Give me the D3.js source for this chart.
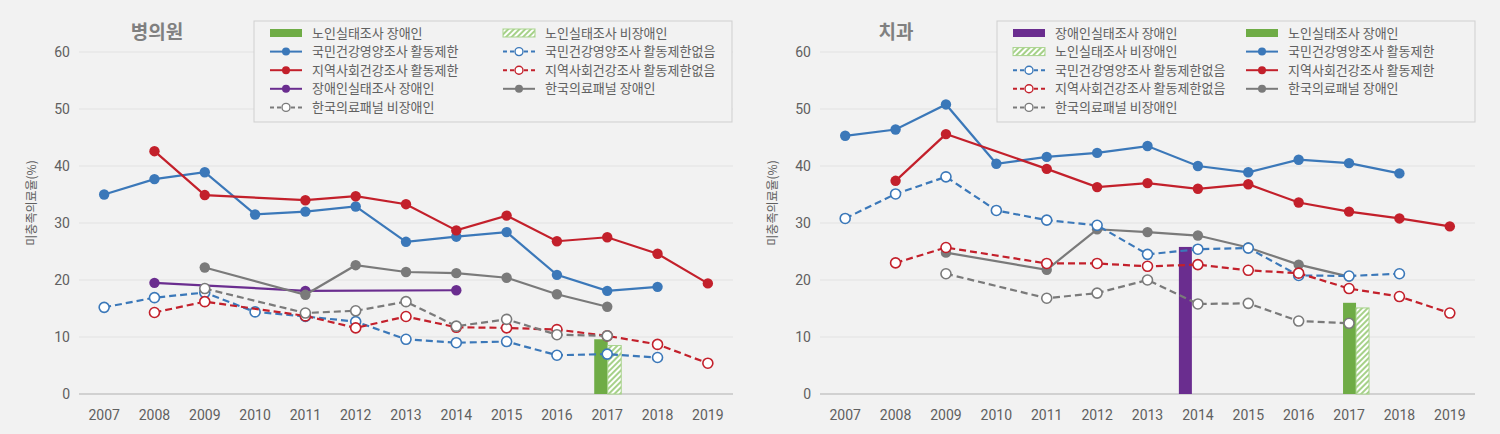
<!DOCTYPE html>
<html>
<head>
<meta charset="utf-8">
<script src="https://cdn.jsdelivr.net/npm/d3@7"></script>
<style>
  body { margin: 0; background: #f2f2f2; }
  svg { display: block; }
</style>
</head>
<body>
<script>
'use strict';

// years on the x axis
const years = [2007, 2008, 2009, 2010, 2011, 2012, 2013, 2014, 2015, 2016, 2017, 2018, 2019];
const yTicks = [0, 10, 20, 30, 40, 50, 60];

// series names
const nameElderDis = "노인실태조사 장애인";
const nameElderNonDis = "노인실태조사 비장애인";
const nameKnhanesLimit = "국민건강영양조사 활동제한";
const nameKnhanesNoLimit = "국민건강영양조사 활동제한없음";
const nameChsLimit = "지역사회건강조사 활동제한";
const nameChsNoLimit = "지역사회건강조사 활동제한없음";
const nameDisSurvey = "장애인실태조사 장애인";
const namePanelDis = "한국의료패널 장애인";
const namePanelNonDis = "한국의료패널 비장애인";

// 병의원 (left panel)
const clinicKnhanesLimit   = [35.0, 37.7, 38.9, 31.5, 32.0, 32.9, 26.7, 27.6, 28.4, 20.9, 18.1, 18.8, null];
const clinicChsLimit       = [null, 42.6, 34.9, null, 34.0, 34.7, 33.3, 28.7, 31.3, 26.8, 27.5, 24.6, 19.4];
const clinicDisSurvey      = [null, 19.5, null, null, 18.1, null, null, 18.2, null, null, null, null, null];
const clinicPanelDis       = [null, null, 22.2, null, 17.4, 22.6, 21.4, 21.2, 20.4, 17.5, 15.3, null, null];
const clinicKnhanesNoLimit = [15.2, 16.9, 17.8, 14.4, 13.6, 12.7, 9.6, 9.0, 9.2, 6.8, 7.0, 6.4, null];
const clinicChsNoLimit     = [null, 14.3, 16.2, null, 13.7, 11.6, 13.6, 11.7, 11.6, 11.3, 10.2, 8.7, 5.4];
const clinicPanelNonDis    = [null, null, 18.5, null, 14.2, 14.6, 16.2, 11.9, 13.1, 10.4, 10.2, null, null];
const clinicElderDis       = [null, null, null, null, null, null, null, null, null, null, 9.6, null, null];
const clinicElderNonDis    = [null, null, null, null, null, null, null, null, null, null, 8.5, null, null];

// 치과 (right panel)
const dentalKnhanesLimit   = [45.3, 46.4, 50.8, 40.4, 41.6, 42.3, 43.5, 40.0, 38.9, 41.1, 40.5, 38.7, null];
const dentalChsLimit       = [null, 37.4, 45.6, null, 39.5, 36.3, 37.0, 36.0, 36.8, 33.6, 32.0, 30.8, 29.4];
const dentalPanelDis       = [null, null, 24.8, null, 21.8, 28.9, 28.4, 27.8, 25.7, 22.7, 20.6, null, null];
const dentalKnhanesNoLimit = [30.8, 35.1, 38.1, 32.2, 30.5, 29.6, 24.5, 25.4, 25.6, 20.8, 20.7, 21.1, null];
const dentalChsNoLimit     = [null, 23.0, 25.7, null, 22.9, 22.9, 22.4, 22.7, 21.7, 21.2, 18.5, 17.1, 14.2];
const dentalPanelNonDis    = [null, null, 21.1, null, 16.8, 17.7, 20.0, 15.8, 15.9, 12.8, 12.4, null, null];
const dentalDisSurvey      = [null, null, null, null, null, null, null, 25.8, null, null, null, null, null];
const dentalElderDis       = [null, null, null, null, null, null, null, null, null, null, 16.0, null, null];
const dentalElderNonDis    = [null, null, null, null, null, null, null, null, null, null, 15.1, null, null];

// colours
const cBlue = "#3b78b9", cRed = "#c3202b", cPurple = "#6a2d8f", cGray = "#7a7a7a", cGreen = "#6fac46";
const textColor = "#606060";
const tickFont = "'Liberation Sans Narrow', 'Arial Narrow', 'Roboto', sans-serif";
const krFont = "'Noto Sans CJK KR', 'Noto Sans', sans-serif";

const svg = d3.select("body").append("svg")
  .attr("width", 1500)
  .attr("height", 434);

svg.append("rect").attr("width", 1500).attr("height", 434).attr("fill", "#f2f2f2");

// hatch pattern for 노인실태조사 비장애인
const defs = svg.append("defs");
const pat = defs.append("pattern")
  .attr("id", "hatch")
  .attr("patternUnits", "userSpaceOnUse")
  .attr("width", 4).attr("height", 4)
  .attr("patternTransform", "rotate(45)");
pat.append("rect").attr("width", 4).attr("height", 4).attr("fill", "#ffffff");
pat.append("line").attr("x1", 1).attr("y1", 0).attr("x2", 1).attr("y2", 4)
  .attr("stroke", "#9ccc7c").attr("stroke-width", 1.8);

function drawPanel(p) {
  const g = svg.append("g");

  let x = d3.scaleBand().domain(years).range([p.x0, p.x1]);
  let y = d3.scaleLinear().domain([0, 60]).range([394, 52]);
  let cx = function(yr) { return x(yr) + x.bandwidth() / 2; };

  // gridlines
  g.selectAll(".grid").data(yTicks).enter().append("line")
    .attr("x1", p.x0).attr("x2", p.x1)
    .attr("y1", d => y(d)).attr("y2", d => y(d))
    .attr("stroke", d => d === 0 ? "#c6c6c6" : "#e2e2e2")
    .attr("stroke-width", d => d === 0 ? 1.5 : 1);

  // y axis labels
  let yAxis = d3.axisLeft(y).tickValues(yTicks).tickSize(0).tickPadding(0);
  g.append("g")
    .attr("transform", "translate(" + (p.x0 - 9) + ",0)")
    .call(yAxis)
    .call(a => a.select(".domain").remove())
    .selectAll("text")
    .style("font-family", tickFont).style("font-size", "14px").attr("fill", textColor);

  // x axis labels
  let xAxis = d3.axisBottom(x).tickSize(0).tickPadding(0);
  g.append("g")
    .attr("transform", "translate(0,410)")
    .call(xAxis)
    .call(a => a.select(".domain").remove())
    .selectAll("text")
    .style("font-family", tickFont).style("font-size", "14px").attr("fill", textColor);

  // axis title
  g.append("text")
    .attr("transform", "translate(" + p.axisLabelX + ",203)rotate(-90)")
    .attr("text-anchor", "middle")
    .style("font-family", krFont).style("font-size", "12px")
    .attr("fill", textColor)
    .text("미충족의료율(%)");

  // panel title
  g.append("text")
    .attr("x", p.titleX).attr("y", 39)
    .attr("text-anchor", "middle")
    .style("font-family", krFont).style("font-size", "19px").style("font-weight", "bold")
    .attr("fill", "#808080")
    .text(p.title);

  // bars
  let slot = d3.scaleBand().domain(p.bars.map(b => b.name)).range(p.barRange);
  p.bars.forEach(function(b) {
    let pts = years.map((yr, i) => ({ yr: yr, v: b.values[i] })).filter(d => d.v !== null);
    g.selectAll(null).data(pts).enter().append("rect")
      .attr("x", d => cx(d.yr) + slot(b.name))
      .attr("width", slot.bandwidth())
      .attr("y", d => y(d.v))
      .attr("height", d => y(0) - y(d.v))
      .attr("fill", b.fill)
      .attr("stroke", b.stroke || "none")
      .attr("stroke-width", 1);
  });

  // lines
  p.lines.forEach(function(s) {
    let pts = years.map((yr, i) => ({ yr: yr, v: s.values[i] })).filter(d => d.v !== null);
    let line = d3.line().x(d => cx(d.yr)).y(d => y(d.v));
    g.append("path")
      .datum(pts)
      .attr("d", line)
      .attr("fill", "none")
      .attr("stroke", s.color)
      .attr("stroke-width", 2.2)
      .attr("stroke-dasharray", s.dashed ? "7,4" : null);
    g.selectAll(null).data(pts).enter().append("circle")
      .attr("cx", d => cx(d.yr)).attr("cy", d => y(d.v))
      .attr("r", s.dashed ? 5 : 5.2)
      .attr("fill", s.dashed ? "#ffffff" : s.color)
      .attr("stroke", s.color)
      .attr("stroke-width", s.dashed ? 1.6 : 0);
  });

  // legend
  let lg = g.append("g").attr("transform", "translate(" + p.legendX + ",21)");
  lg.append("rect")
    .attr("width", 478).attr("height", 101)
    .attr("fill", "#f2f2f2")
    .attr("stroke", "#cfcfcf").attr("stroke-width", 1);
  p.legend.forEach(function(item, i) {
    let col = i % 2, row = Math.floor(i / 2);
    let sx = 16 + col * 233, sy = 12 + row * 18.6;
    let it = lg.append("g").attr("transform", "translate(" + sx + "," + sy + ")");
    if (item.fill) {
      it.append("rect").attr("x", 0).attr("y", -4).attr("width", 32).attr("height", 8)
        .attr("fill", item.fill).attr("stroke", item.stroke || "none");
    } else {
      it.append("line").attr("x1", 0).attr("x2", 32).attr("y1", 0).attr("y2", 0)
        .attr("stroke", item.color).attr("stroke-width", 2)
        .attr("stroke-dasharray", item.dashed ? "4,3" : null);
      it.append("circle").attr("cx", 16).attr("cy", 0).attr("r", 4)
        .attr("fill", item.dashed ? "#ffffff" : item.color)
        .attr("stroke", item.color).attr("stroke-width", item.dashed ? 1.4 : 0);
    }
    it.append("text")
      .attr("x", 42).attr("y", 0).attr("dy", "0.35em")
      .style("font-family", krFont).style("font-size", "13px")
      .attr("fill", textColor)
      .text(item.name);
  });
}

const sElderDis = { name: nameElderDis, fill: cGreen };
const sElderNonDis = { name: nameElderNonDis, fill: "url(#hatch)", stroke: "#a8d38c" };
const sDisBar = { name: nameDisSurvey, fill: cPurple };

drawPanel({
  x0: 79, x1: 733,
  title: "병의원", titleX: 157, axisLabelX: 36, legendX: 254,
  barRange: [-13, 14],
  bars: [
    { name: nameElderDis, values: clinicElderDis, fill: cGreen },
    { name: nameElderNonDis, values: clinicElderNonDis, fill: "url(#hatch)", stroke: "#a8d38c" }
  ],
  lines: [
    { name: nameKnhanesLimit, values: clinicKnhanesLimit, color: cBlue },
    { name: nameChsLimit, values: clinicChsLimit, color: cRed },
    { name: nameDisSurvey, values: clinicDisSurvey, color: cPurple },
    { name: namePanelDis, values: clinicPanelDis, color: cGray },
    { name: nameKnhanesNoLimit, values: clinicKnhanesNoLimit, color: cBlue, dashed: true },
    { name: nameChsNoLimit, values: clinicChsNoLimit, color: cRed, dashed: true },
    { name: namePanelNonDis, values: clinicPanelNonDis, color: cGray, dashed: true }
  ],
  legend: [
    sElderDis, sElderNonDis,
    { name: nameKnhanesLimit, color: cBlue }, { name: nameKnhanesNoLimit, color: cBlue, dashed: true },
    { name: nameChsLimit, color: cRed }, { name: nameChsNoLimit, color: cRed, dashed: true },
    { name: nameDisSurvey, color: cPurple }, { name: namePanelDis, color: cGray },
    { name: namePanelNonDis, color: cGray, dashed: true }
  ]
});

drawPanel({
  x0: 820, x1: 1475,
  title: "치과", titleX: 896, axisLabelX: 777, legendX: 997,
  barRange: [-19, 20],
  bars: [
    { name: nameDisSurvey, values: dentalDisSurvey, fill: cPurple },
    { name: nameElderDis, values: dentalElderDis, fill: cGreen },
    { name: nameElderNonDis, values: dentalElderNonDis, fill: "url(#hatch)", stroke: "#a8d38c" }
  ],
  lines: [
    { name: nameKnhanesLimit, values: dentalKnhanesLimit, color: cBlue },
    { name: nameChsLimit, values: dentalChsLimit, color: cRed },
    { name: namePanelDis, values: dentalPanelDis, color: cGray },
    { name: nameKnhanesNoLimit, values: dentalKnhanesNoLimit, color: cBlue, dashed: true },
    { name: nameChsNoLimit, values: dentalChsNoLimit, color: cRed, dashed: true },
    { name: namePanelNonDis, values: dentalPanelNonDis, color: cGray, dashed: true }
  ],
  legend: [
    sDisBar, sElderDis,
    sElderNonDis, { name: nameKnhanesLimit, color: cBlue },
    { name: nameKnhanesNoLimit, color: cBlue, dashed: true }, { name: nameChsLimit, color: cRed },
    { name: nameChsNoLimit, color: cRed, dashed: true }, { name: namePanelDis, color: cGray },
    { name: namePanelNonDis, color: cGray, dashed: true }
  ]
});
</script>
</body>
</html>
